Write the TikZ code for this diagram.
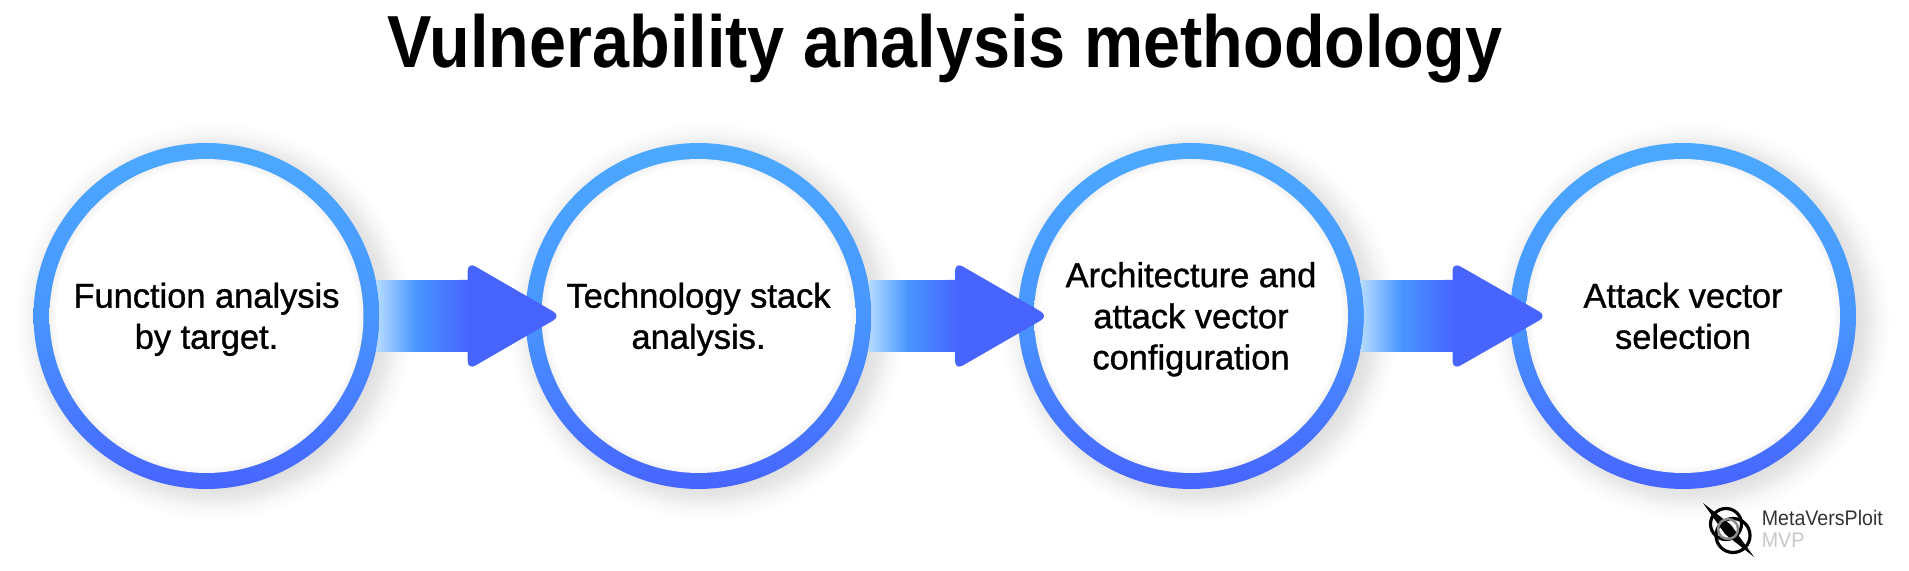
\documentclass[tikz,border=0pt]{standalone}
\usepackage{fontspec}
\setmainfont{Liberation Sans}
\newfontfamily\stepfont[FakeBold=1.0]{Liberation Sans}
\usetikzlibrary{calc}
\definecolor{ringtop}{HTML}{4CA9FF}
\definecolor{ringmid}{HTML}{4896FF}
\definecolor{ringlow}{HTML}{4764FF}
\pgfdeclareradialshading{halofill}{\pgfpointorigin}{
  color(0bp)=(black!14); color(20bp)=(black!14); color(21.9bp)=(black!9);
  color(23.5bp)=(black!3); color(25bp)=(white); color(50bp)=(white)}
\pgfdeclareradialshading{discfill}{\pgfpointorigin}{
  color(0bp)=(white); color(23.8bp)=(white); color(25bp)=(black!5); color(50bp)=(black!5)}
\pgfdeclarehorizontalshading{arrowfill}{100bp}{
  color(0bp)=(ringtop!40!white); color(25bp)=(ringtop!40!white); color(36bp)=(ringmid);
  color(50bp)=(ringlow); color(100bp)=(ringlow)}
\tikzset{
  stephalo/.style={circle,inner sep=0pt,outer sep=0pt,minimum size=8cm,shading=halofill},
  stepring/.style={circle,inner sep=0pt,outer sep=0pt,minimum size=6.92cm,
    top color=ringtop,bottom color=ringlow,middle color=ringmid},
  stepdisc/.style={circle,inner sep=0pt,outer sep=0pt,minimum size=6.28cm,shading=discfill},
  steptext/.style={inner sep=0pt,yshift=-0.08cm,align=center,
    font=\stepfont\fontsize{19.6}{23.4}\selectfont},
  steparrow/.style={shading=arrowfill},
  marktext/.style={anchor=base west,inner sep=0pt,xscale=0.93,transform shape,
    font=\fontsize{12}{14}\selectfont}
}
\begin{document}
\begin{tikzpicture}[x=0.02cm,y=0.02cm]
  \useasboundingbox (0,0) rectangle (1909,571);
  \node (title) at (945,522) [font=\bfseries\fontsize{42}{50}\selectfont,xscale=0.902,transform shape]
    {Vulnerability analysis methodology};
  % shadows
  \node (h1) at (214,250) [stephalo] {};
  \node (h2) at (706,250) [stephalo] {};
  \node (h3) at (1199,250) [stephalo] {};
  \node (h4) at (1691,250) [stephalo] {};
  % rings
  \node (c1) at (206.5,255) [stepring] {};
  \node (c2) at (698.5,255) [stepring] {};
  \node (c3) at (1191,255) [stepring] {};
  \node (c4) at (1683,255) [stepring] {};
  \node (d1) at (c1) [stepdisc] {};
  \node (d2) at (c2) [stepdisc] {};
  \node (d3) at (c3) [stepdisc] {};
  \node (d4) at (c4) [stepdisc] {};
  % labels
  \node (t1) at (c1) [steptext] {\strut Function analysis\\by target.\strut};
  \node (t2) at (c2) [steptext] {\strut Technology stack\\analysis.\strut};
  \node (t3) at (c3) [steptext] {\strut Architecture and\\attack vector\\configuration\strut};
  \node (t4) at (c4) [steptext] {\strut Attack vector\\selection\strut};
  % arrows
  \shade[steparrow] (c1.12) -- (467.7,291) [rounded corners=5] -- (467.7,309) -- (561,255)
    -- (467.7,201) [sharp corners] -- (467.7,219) -- (c1.-12) arc[start angle=-12,end angle=12,radius=173] -- cycle;
  \shade[steparrow] (c2.12) -- (955,291) [rounded corners=5] -- (955,309) -- (1048.5,255)
    -- (955,201) [sharp corners] -- (955,219) -- (c2.-12) arc[start angle=-12,end angle=12,radius=173] -- cycle;
  \shade[steparrow] (c3.12) -- (1452.6,291) [rounded corners=5] -- (1452.6,309) -- (1547,255)
    -- (1452.6,201) [sharp corners] -- (1452.6,219) -- (c3.-12) arc[start angle=-12,end angle=12,radius=173] -- cycle;
  % mark
  \coordinate (m1) at (1703,68);
  \coordinate (m2) at (1754,14);
  \fill[black] (m1) -- (1731,46) -- (m2) -- (1725,37) -- cycle;
  \draw[black,line width=1.8pt] (1726,47) circle (15.5);
  \draw[black,line width=1.8pt] (1733,35.5) circle (17);
  \draw[black!45,line width=1.4pt] (1728,42) circle (10);
  \node (name) at (1761.5,45) [marktext,text=black!80] {MetaVersPloit};
  \node (tier) at (1761.5,23) [marktext,text=black!22] {MVP};
\end{tikzpicture}
\end{document}
